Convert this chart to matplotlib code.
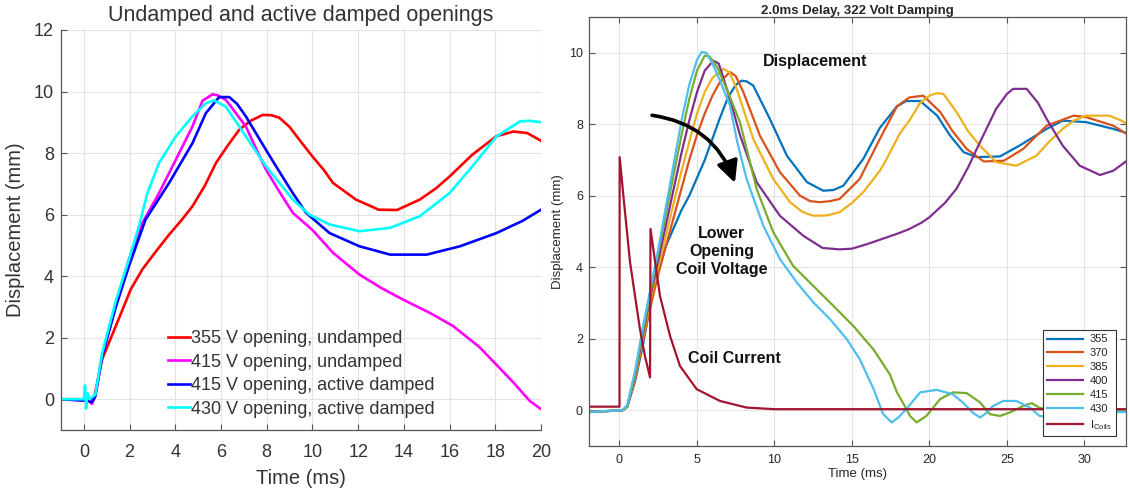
import matplotlib
matplotlib.use("Agg")
import matplotlib.pyplot as plt

plt.rcParams['font.family'] = ['Liberation Sans', 'DejaVu Sans']
plt.rcParams['mathtext.fontset'] = 'custom'
plt.rcParams['mathtext.rm'] = 'Liberation Sans'

# ---------------- Left chart data ----------------
left_title = "Undamped and active damped openings"
left_labels = ["355 V opening, undamped", "415 V opening, undamped",
               "415 V opening, active damped", "430 V opening, active damped"]
left_colors = ["#ff0000", "#ff00ff", "#0000ff", "#00ffff"]

red_x = [-1, 0.3, 0.45, 0.8, 1.46, 2.05, 2.56, 3.2, 3.73, 4.25, 4.75, 5.3, 5.78, 6.3, 6.8, 7.3,
         7.82, 8.2, 8.55, 9.0, 9.43, 10.0, 10.5, 10.9, 11.9, 12.9, 13.7, 14.7, 15.4, 16.0, 17.0,
         18.05, 18.8, 19.4, 20.0]
red_y = [0, 0, 0.05, 1.3, 2.49, 3.57, 4.22, 4.85, 5.35, 5.8, 6.27, 6.95, 7.68, 8.25, 8.76, 9.05,
         9.24, 9.23, 9.15, 8.85, 8.43, 7.89, 7.45, 7.03, 6.49, 6.16, 6.15, 6.49, 6.85, 7.24, 7.95,
         8.55, 8.7, 8.65, 8.4]

mag_x = [-1, 0.2, 0.35, 0.5, 0.8, 1.46, 1.97, 2.56, 3.29, 4.02, 4.75, 5.19, 5.63, 5.85, 6.21,
         6.6, 7.09, 7.5, 7.97, 8.55, 9.14, 10.0, 10.9, 12.06, 13.0, 13.96, 15.13, 16.15, 17.3,
         18.05, 18.8, 19.5, 20.0]
mag_y = [0, -0.05, -0.15, 0.1, 1.4, 3.24, 4.54, 5.73, 6.7, 7.78, 8.86, 9.7, 9.91, 9.88, 9.73,
         9.35, 8.86, 8.2, 7.46, 6.75, 6.06, 5.5, 4.76, 4.05, 3.62, 3.24, 2.81, 2.38, 1.7,
         1.12, 0.54, -0.05, -0.32]

blu_x = [-1, 0.2, 0.35, 0.5, 0.8, 1.4, 1.97, 2.7, 3.73, 4.75, 5.34, 5.92, 6.36, 6.7, 7.09, 7.97,
         8.55, 9.14, 9.72, 10.75, 12.06, 13.4, 15.0, 16.45, 18.05, 19.2, 20.0]
blu_y = [0, -0.05, -0.1, 0.1, 1.4, 3.0, 4.32, 5.84, 7.03, 8.32, 9.3, 9.82, 9.82, 9.6, 9.19, 8.1,
         7.4, 6.7, 6.06, 5.4, 4.97, 4.7, 4.7, 4.97, 5.4, 5.8, 6.16]

cya_x = [-1, 0.0, 0.05, 0.1, 0.15, 0.25, 0.5, 0.8, 1.4, 1.97, 2.4, 2.78, 3.29, 4.02, 4.75, 5.34,
         5.7, 6.21, 7.09, 7.97, 9.14, 9.87, 10.75, 12.06, 13.4, 14.7, 16.0, 17.0, 18.05, 19.08,
         19.5, 20.0]
cya_y = [0, 0, 0.45, -0.3, 0.2, 0.0, 0.15, 1.5, 3.2, 4.54, 5.6, 6.7, 7.68, 8.54, 9.19, 9.62,
         9.71, 9.51, 8.54, 7.57, 6.49, 6.0, 5.68, 5.46, 5.57, 5.95, 6.7, 7.57, 8.54, 9.03,
         9.05, 9.0]

left_xticks = list(range(0, 21, 2))
left_yticks = list(range(0, 13, 2))

# ---------------- Right chart data ----------------
right_title = "2.0ms Delay, 322 Volt Damping"
right_labels = ["355", "370", "385", "400", "415", "430", r"I$_{\mathrm{Coils}}$"]
right_colors = ["#0072BD", "#D95319", "#EDB120", "#7E2F8E", "#77AC30", "#4DBEEE", "#A2142F"]

v355_x = [-2, 0.2, 0.5, 1.0, 1.5, 2.0, 2.5, 3.0, 3.5, 4.0, 4.5, 5.0, 5.5, 6.0, 6.5, 7.0, 7.5,
          7.88, 8.2, 8.63, 9.7, 10.8, 12.1, 13.15, 13.8, 14.44, 15.73, 16.8, 17.9, 18.5, 19.4,
          20.5, 21.3, 22.2, 23.05, 24.55, 25.8, 27.56, 28.6, 30.1, 31.86, 32.9]
v355_y = [-0.05, 0, 0.1, 0.8, 1.8, 3.0, 3.9, 4.6, 5.1, 5.6, 6.0, 6.5, 7.0, 7.6, 8.2, 8.75, 9.1,
          9.22, 9.2, 9.08, 8.15, 7.12, 6.38, 6.14, 6.16, 6.28, 7.03, 7.9, 8.5, 8.65, 8.65,
          8.24, 7.7, 7.22, 7.08, 7.1, 7.4, 7.87, 8.1, 8.06, 7.87, 7.73]

v370_x = [-2, 0.2, 0.5, 1.0, 1.5, 2.0, 2.5, 3.0, 3.5, 4.0, 4.5, 5.0, 5.5, 6.0, 6.5, 7.13, 7.5,
          7.99, 9.06, 10.35, 11.65, 12.3, 12.94, 13.6, 14.2, 15.5, 16.8, 17.9, 18.7, 19.6, 20.7,
          21.5, 22.4, 23.5, 24.8, 26.05, 27.56, 29.3, 30.1, 31.86, 32.9]
v370_y = [-0.05, 0, 0.1, 0.85, 1.9, 2.9, 3.8, 4.6, 5.4, 6.2, 7.0, 7.7, 8.3, 8.8, 9.2, 9.46, 9.35,
          8.9, 7.68, 6.66, 6.0, 5.85, 5.82, 5.85, 5.91, 6.47, 7.59, 8.5, 8.75, 8.8, 8.34,
          7.8, 7.31, 6.96, 6.98, 7.31, 7.96, 8.24, 8.2, 7.96, 7.68]

v385_x = [-2, 0.2, 0.5, 1.0, 1.5, 2.0, 2.5, 3.0, 3.5, 4.0, 4.5, 5.0, 5.5, 6.0, 6.7, 7.1, 7.56,
          8.63, 9.92, 11.0, 11.8, 12.5, 13.4, 14.2, 15.0, 15.73, 16.8, 17.2, 18.1, 18.7, 19.4,
          20.0, 20.46, 20.9, 21.75, 22.5, 23.26, 24.3, 25.6, 26.9, 27.7, 28.6, 29.3, 30.1, 31.6,
          32.4, 32.9]
v385_y = [-0.05, 0, 0.1, 0.9, 2.0, 3.1, 4.0, 4.9, 5.8, 6.7, 7.5, 8.3, 8.9, 9.3, 9.55, 9.45, 8.99,
          7.59, 6.47, 5.82, 5.55, 5.44, 5.45, 5.54, 5.8, 6.1, 6.7, 7.0, 7.75, 8.1, 8.6,
          8.8, 8.87, 8.85, 8.34, 7.8, 7.4, 6.94, 6.84, 7.12, 7.5, 7.87, 8.1, 8.24, 8.24,
          8.1, 7.96]

v400_x = [-2, 0.2, 0.5, 1.0, 1.5, 2.0, 2.5, 3.0, 3.5, 4.0, 4.5, 5.0, 5.5, 6.05, 6.4, 6.7, 7.2,
          7.77, 8.85, 10.35, 11.86, 13.1, 14.2, 15.0, 16.0, 17.0, 18.0, 18.7, 19.5, 20.0, 21.0,
          21.75, 22.5, 23.26, 24.3, 25.0, 25.4, 26.27, 27.0, 27.56, 28.6, 29.7, 31.0, 31.86, 32.9]
v400_y = [-0.05, 0, 0.1, 0.95, 2.1, 3.2, 4.2, 5.2, 6.2, 7.2, 8.1, 8.9, 9.5, 9.78, 9.7, 9.3, 8.6,
          7.7, 6.38, 5.44, 4.88, 4.54, 4.5, 4.52, 4.65, 4.8, 4.95, 5.07, 5.25, 5.4, 5.8,
          6.2, 6.8, 7.5, 8.43, 8.85, 8.99, 8.99, 8.6, 8.15, 7.4, 6.84, 6.58, 6.7, 7.03]

v415_x = [-2, 0.2, 0.5, 1.0, 1.5, 2.0, 2.5, 3.0, 3.5, 4.0, 4.5, 5.0, 5.5, 5.8, 6.3, 7.0, 7.77,
          8.85, 9.92, 11.2, 12.5, 13.8, 15.08, 16.37, 16.8, 17.45, 17.9, 18.5, 18.74, 19.17,
          19.8, 20.68, 21.5, 22.4, 23.26, 23.9, 24.55, 25.2, 26.05, 26.6, 27.1, 28.0, 32.9]
v415_y = [-0.05, 0, 0.1, 1.0, 2.2, 3.3, 4.4, 5.5, 6.6, 7.7, 8.7, 9.5, 9.92, 9.9, 9.6, 8.9, 8.06,
          6.19, 4.98, 4.04, 3.48, 2.92, 2.36, 1.71, 1.43, 1.0, 0.5, 0.05, -0.16, -0.34,
          -0.16, 0.31, 0.5, 0.48, 0.22, -0.11, -0.16, -0.06, 0.12, 0.2, 0.07, 0.0, 0.0]

v430_x = [-2, 0.2, 0.5, 1.0, 1.5, 2.0, 2.5, 3.0, 3.5, 4.0, 4.5, 5.0, 5.3, 5.6, 6.0, 6.5, 7.13,
          7.6, 8.2, 9.28, 10.35, 11.43, 12.5, 13.58, 14.66, 15.5, 16.4, 17.0, 17.56, 18.0, 18.5,
          19.4, 20.46, 21.5, 22.2, 22.8, 23.26, 23.6, 24.1, 24.76, 25.6, 26.5, 27.1, 28.0,
          29.0, 30.0, 31.0, 32.0, 32.9]
v430_y = [-0.05, 0, 0.15, 1.1, 2.3, 3.4, 4.5, 5.7, 6.9, 8.1, 9.1, 9.8, 10.02, 10.0, 9.7, 9.2,
          8.52, 7.5, 6.47, 5.16, 4.23, 3.58, 3.02, 2.55, 1.99, 1.43, 0.59, -0.1, -0.34, -0.2,
          0.03, 0.5, 0.57, 0.45, 0.2, -0.07, -0.2, -0.1, 0.12, 0.26, 0.26, 0.07, -0.16, -0.2,
          -0.05, 0.05, 0.05, -0.05, -0.05]

coil_x = [-2, 0.0, 0.01, 0.25, 0.68, 1.0, 1.32, 1.65, 1.97, 2.0, 2.61, 3.26, 3.9, 4.98, 6.48,
          8.2, 10.0, 32.9]
coil_y = [0.1, 0.1, 7.08, 6.0, 4.14, 3.2, 2.27, 1.5, 0.92, 5.07, 3.2, 2.08, 1.24, 0.59, 0.26,
          0.075, 0.03, 0.03]

right_xticks = list(range(0, 31, 5))
right_yticks = list(range(0, 11, 2))

annot_texts = ["Displacement", "Lower\nOpening\nCoil Voltage", "Coil Current"]

# ---------------- Figure ----------------
fig = plt.figure(figsize=(11.29, 4.9), dpi=100)
txt = '#262626'
grid_c = '#e3e3e3'

# Left axes
ax1 = fig.add_axes([61/1129, 60/490, 480/1129, 400/490])
for (xs, ys), c, lab in zip([(red_x, red_y), (mag_x, mag_y), (blu_x, blu_y), (cya_x, cya_y)],
                            left_colors, left_labels):
    ax1.plot(xs, ys, color=c, lw=1.9, label=lab)
ax1.set_xlim(-1, 20)
ax1.set_ylim(-1, 12)
ax1.set_xticks(left_xticks)
ax1.set_yticks(left_yticks)
ax1.grid(True, color=grid_c, lw=0.8)
ax1.set_axisbelow(True)
for s in ['top', 'right']:
    ax1.spines[s].set_visible(False)
for s in ['left', 'bottom']:
    ax1.spines[s].set_color('#555555')
    ax1.spines[s].set_linewidth(0.9)
ax1.tick_params(direction='in', length=4, color='#555555', labelsize=13, labelcolor='#333333')
ax1.tick_params(axis='x', pad=10)
ax1.tick_params(axis='y', pad=5)
ax1.set_xlabel("Time (ms)", fontsize=14.5, color='#333333')
ax1.set_ylabel("Displacement (mm)", fontsize=14.5, color='#333333')
ax1.xaxis.set_label_coords(0.5, -0.097)
ax1.yaxis.set_label_coords(-0.075, 0.5)
fig.text(301/1129, 1 - 16/490, left_title, fontsize=15.5, color='#333333', ha='center', va='center')
leg1 = ax1.legend(loc='center left', bbox_to_anchor=(0.223, 0.14), frameon=False,
                  fontsize=13, handlelength=1.2, handletextpad=0.05, borderpad=0,
                  borderaxespad=0, labelspacing=0.36)
for t in leg1.get_texts():
    t.set_color('#333333')

# Right axes
ax2 = fig.add_axes([588.5/1129, 44/490, 537.8/1129, 429/490])
series = [(v355_x, v355_y), (v370_x, v370_y), (v385_x, v385_y), (v400_x, v400_y),
          (v415_x, v415_y), (v430_x, v430_y), (coil_x, coil_y)]
for (xs, ys), c, lab in zip(series, right_colors, right_labels):
    ax2.plot(xs, ys, color=c, lw=1.6, label=lab)
ax2.set_xlim(-2, 32.7)
ax2.set_ylim(-1, 11)
ax2.set_xticks(right_xticks)
ax2.set_yticks(right_yticks)
ax2.grid(True, color=grid_c, lw=0.8)
ax2.set_axisbelow(True)
for s in ax2.spines.values():
    s.set_color('#555555')
    s.set_linewidth(0.9)
ax2.tick_params(direction='in', length=4, color='#555555', labelsize=9, labelcolor=txt,
                top=True, right=True)
ax2.tick_params(axis='x', pad=6)
ax2.tick_params(axis='y', pad=4)
ax2.set_xlabel("Time (ms)", fontsize=9.5, color=txt)
ax2.set_ylabel("Displacement (mm)", fontsize=9.5, color=txt)
ax2.xaxis.set_label_coords(0.5, -0.052)
ax2.yaxis.set_label_coords(-0.0456, 0.5)
fig.text(857/1129, 1 - 11/490, right_title, fontsize=9.5, fontweight='bold', color=txt,
         ha='center', va='center')

ax2.text(12.6, 9.76, annot_texts[0], fontsize=11.5, fontweight='bold', color='#111111',
         ha='center', va='center')
ax2.text(6.6, 4.43, annot_texts[1], fontsize=11.5, fontweight='bold', color='#111111',
         ha='center', va='center', linespacing=1.25)
ax2.text(7.44, 1.46, annot_texts[2], fontsize=11.5, fontweight='bold', color='#111111',
         ha='center', va='center')
ax2.annotate("", xy=(7.45, 6.36), xytext=(2.1, 8.25),
             arrowprops=dict(arrowstyle="-|>,head_length=0.65,head_width=0.32", lw=2.6,
                             color='black', mutation_scale=20,
                             connectionstyle="arc3,rad=-0.3", shrinkA=0, shrinkB=0))

leg2 = ax2.legend(loc='lower right', fontsize=8, frameon=True, fancybox=False,
                  edgecolor='#333333', framealpha=1, handlelength=3.2, handletextpad=0.6,
                  borderaxespad=0.9, labelspacing=0.35, borderpad=0.4)
leg2.get_frame().set_linewidth(0.8)
for t in leg2.get_texts():
    t.set_color(txt)

fig.savefig("out.png", dpi=100)
